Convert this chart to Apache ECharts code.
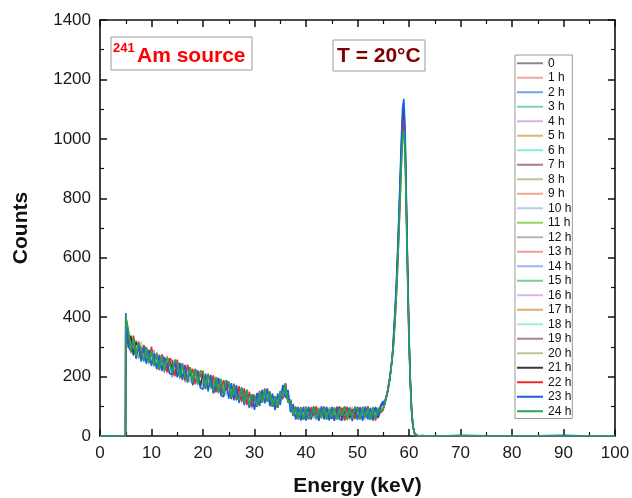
<!DOCTYPE html>
<html>
<head>
<meta charset="utf-8">
<script src="https://cdn.jsdelivr.net/npm/echarts@6/dist/echarts.min.js"></script>
<style>
html,body{margin:0;padding:0;background:#fff;}
#chart{width:632px;height:498px;}
</style>
</head>
<body>
<div id="chart"></div>
<script>
// Energy channels (keV)
const energy = [0, 4.95,
 5,5.5,6,6.5,7,7.5,8,8.5,9,9.5,
 10,10.5,11,11.5,12,12.5,13,13.5,14,14.5,
 15,15.5,16,16.5,17,17.5,18,18.5,19,19.5,
 20,20.5,21,21.5,22,22.5,23,23.5,24,24.5,
 25,25.5,26,26.5,27,27.5,28,28.5,29,29.5,
 30,30.5,31,31.5,32,32.5,33,33.5,34,34.5,
 35,35.5,36,36.5,37,37.5,38,38.5,39,39.5,
 40,40.5,41,41.5,42,42.5,43,43.5,44,44.5,
 45,45.5,46,46.5,47,47.5,48,48.5,49,49.5,
 50,50.5,51,51.5,52,52.5,53,53.5,54,54.5,
 55,
 55.25,55.5,55.75,56,56.25,56.5,56.75,
 57,57.25,57.5,57.75,58,58.25,58.5,58.75,59,59.25,59.5,59.75,60,60.25,60.5,60.75,
 61,61.25,61.5,61.75,62,
 62.5,63,64,66,70,75,80,85,90,95,100];

const h0 = [0,0,
 372,300,341,281,322,262,305,251,296,288,
 239,290,221,275,262,211,270,248,197,259,
 250,192,243,181,236,224,169,221,210,160,
 211,160,204,192,146,199,143,181,134,186,
 174,127,169,118,158,112,150,141,97,131,
 94,140,109,154,128,157,105,138,90,140,
 112,170,131,155,84,104,60,96,57,98,
 96,58,84,99,61,73,92,55,88,70,
 63,95,77,54,90,68,98,60,81,74,
 89,57,71,97,66,84,53,92,74,103,
 106,
 110,120,145,162,195,222,268,
 324,397,479,582,700,824,953,1061,1090,989,762,536,330,185,88,36,
 13,5,2,1,1,
 1,0,1,0,1,0,0,1,0,1,0];
const h1 = [0,0,
 340,351,280,327,311,264,318,255,297,241,
 287,232,279,226,263,259,214,256,241,208,
 201,247,229,190,231,185,219,215,174,213,
 173,207,158,203,185,147,192,155,180,137,
 165,176,130,166,121,157,114,150,103,138,
 121,102,147,116,157,118,149,100,131,99,
 146,127,177,113,122,68,99,58,90,61,
 71,93,64,85,98,57,79,90,62,95,
 88,60,99,72,58,91,67,85,97,56,
 62,91,84,58,95,73,99,61,86,80,
 91,
 105,125,139,168,189,228,262,
 321,393,474,576,694,816,944,1050,1080,979,755,530,326,184,87,36,
 11,4,2,0,0,
 0,1,0,1,0,1,1,0,1,0,1];
const h2 = [0,0,
 390,331,292,324,268,310,271,300,250,287,
 268,240,281,230,253,267,219,258,209,245,
 239,201,222,233,187,224,179,218,188,172,
 197,198,162,190,168,151,195,147,180,150,
 143,168,159,125,163,117,153,108,141,92,
 130,98,140,151,117,155,112,135,98,136,
 118,164,139,149,87,101,63,94,60,90,
 84,65,98,70,55,93,81,63,100,68,
 98,71,58,87,65,96,75,55,89,93,
 70,99,64,88,57,80,95,66,90,84,
 103,
 112,118,146,161,196,221,269,
 330,403,487,592,712,838,968,1078,1110,1005,775,544,335,188,89,37,
 12,6,3,1,0,
 2,1,1,0,2,1,0,1,2,0,1];
const h3 = [0,0,
 360,306,330,268,316,299,262,307,281,246,
 282,247,232,270,224,262,257,211,250,238,
 217,241,195,230,220,182,222,188,213,170,
 200,168,200,160,189,180,150,186,145,173,
 170,134,163,150,119,159,118,139,132,100,
 108,134,114,150,123,150,118,104,127,97,
 138,159,165,117,118,71,92,68,96,58,
 59,87,96,64,84,57,92,77,62,97,
 81,56,88,99,63,77,94,59,84,70,
 96,63,80,91,55,89,69,98,62,94,
 97,
 104,126,138,169,188,229,261,
 318,389,470,571,687,808,934,1040,1070,970,747,525,323,182,86,35,
 13,5,2,1,1,
 1,0,1,0,1,0,0,1,0,1,0];
const h4 = [0,0,
 345,344,318,279,304,312,267,288,297,259,
 250,282,230,266,260,226,247,218,240,253,
 233,196,236,201,193,226,181,209,207,166,
 181,203,155,198,176,158,189,143,174,164,
 160,139,173,126,149,129,141,115,127,112,
 124,111,134,137,144,120,135,107,123,115,
 121,152,160,140,95,94,70,88,62,86,
 92,68,74,98,60,86,71,95,57,81,
 72,97,62,79,93,58,86,72,99,63,
 85,61,97,74,90,59,83,72,96,97,
 100,
 110,120,145,162,195,222,268,
 327,400,483,586,706,830,960,1069,1100,996,768,540,332,187,88,36,
 11,4,2,0,0,
 0,1,0,1,0,1,1,0,1,0,1];
const h5 = [0,0,
 398,315,324,289,277,306,297,260,290,280,
 271,232,266,240,229,255,221,254,209,233,
 203,233,211,222,180,215,213,178,206,203,
 208,171,188,162,192,154,181,170,148,173,
 139,160,142,163,124,149,112,145,107,128,
 103,127,139,114,152,141,110,130,101,130,
 143,139,170,121,110,80,90,61,88,70,
 86,99,58,76,91,62,96,71,84,56,
 60,82,94,66,57,99,70,88,61,92,
 77,58,88,67,98,63,92,56,81,89,
 95,
 105,125,139,168,189,228,262,
 315,385,465,565,680,800,925,1030,1060,960,740,520,320,180,85,35,
 12,6,3,1,0,
 1,0,1,0,1,0,0,1,0,1,0];
const h6 = [0,0,
 335,336,296,318,263,297,305,266,257,285,
 257,271,222,261,253,221,259,226,249,210,
 228,206,238,188,228,195,220,182,181,212,
 170,194,176,187,153,193,158,176,172,141,
 157,171,128,160,132,151,124,137,101,136,
 117,131,109,147,128,147,130,101,126,106,
 131,160,145,139,103,85,77,95,65,91,
 66,95,79,88,57,82,99,60,78,93,
 94,64,81,58,96,75,62,90,68,83,
 60,94,70,85,78,55,87,75,95,92,
 102,
 112,118,146,161,196,221,269,
 322,394,476,579,696,819,947,1055,1085,983,758,532,328,184,87,36,
 13,5,2,1,1,
 0,1,0,1,0,1,1,0,1,0,1];
const h7 = [0,0,
 376,322,286,311,287,276,292,250,289,271,
 240,268,260,227,271,236,216,255,223,246,
 243,199,219,229,196,188,221,191,200,175,
 193,202,166,181,158,188,147,185,158,144,
 171,142,154,157,113,150,128,120,135,103,
 128,105,141,124,148,116,143,108,115,127,
 117,155,148,148,89,90,66,85,73,93,
 79,61,92,73,97,64,70,94,58,86,
 67,91,73,95,60,86,79,56,93,71,
 92,73,56,80,99,68,62,90,71,83,
 100,
 104,126,138,169,188,229,261,
 325,398,480,584,702,826,955,1064,1095,992,764,537,331,186,88,36,
 11,4,2,0,0,
 1,0,1,0,1,0,0,1,0,1,0];
const h8 = [0,0,
 353,309,316,276,320,270,300,293,255,278,
 286,245,243,262,232,265,225,243,207,241,
 210,230,232,196,214,219,185,204,213,178,
 202,164,193,176,167,181,176,149,176,157,
 148,165,137,140,155,118,145,131,112,126,
 99,137,120,143,119,150,120,127,94,133,
 126,146,158,126,108,76,94,70,85,78,
 98,75,63,89,74,96,57,87,72,62,
 85,57,92,70,88,64,98,76,55,89,
 73,87,61,95,69,91,58,84,67,99,
 104,
 110,120,145,162,195,222,268,
 312,381,460,559,673,792,916,1020,1050,950,733,515,317,178,84,35,
 12,6,3,1,0,
 0,1,0,1,0,1,1,0,1,0,1];
const h9 = [0,0,
 382,298,302,297,269,301,279,265,299,250,
 264,262,235,250,266,230,244,221,257,218,
 221,210,226,191,217,192,211,194,184,205,
 180,193,161,196,181,160,171,158,148,169,
 166,130,160,129,147,124,147,109,131,99,
 115,111,131,130,139,131,131,110,117,110,
 135,138,167,124,113,79,83,78,68,82,
 73,90,86,60,93,78,65,98,75,59,
 91,66,78,97,62,83,90,64,79,95,
 64,80,93,60,86,76,89,63,96,84,
 94,
 105,125,139,168,189,228,262,
 319,390,472,573,690,811,938,1044,1075,973,750,527,324,183,86,35,
 13,5,2,1,1,
 1,0,1,0,1,0,0,1,0,1,0];
const h10 = [0,0,
 349,339,281,312,300,271,295,279,261,290,
 249,253,272,235,240,250,229,229,240,223,
 212,222,200,219,201,209,193,203,179,199,
 194,177,186,170,181,163,157,172,163,150,
 158,145,148,134,146,141,121,136,117,120,
 118,123,119,136,134,139,124,113,106,124,
 124,151,147,137,97,87,74,81,81,77,
 88,70,80,95,69,77,86,58,92,76,
 56,88,75,67,92,73,83,98,63,76,
 86,68,76,96,60,79,73,85,69,96,
 106,
 112,118,146,161,196,221,269,
 328,401,485,589,709,834,964,1074,1105,1000,771,542,333,188,89,36,
 11,4,2,0,0,
 0,1,0,1,0,1,1,0,1,0,1];
const h11 = [0,0,
 367,328,314,285,294,280,273,286,268,261,
 275,241,254,255,237,246,241,236,226,230,
 231,215,208,216,210,198,206,188,201,184,
 186,188,170,183,170,177,162,167,155,162,
 150,155,143,150,136,132,138,124,127,110,
 112,116,128,128,140,129,125,120,108,122,
 128,146,150,134,99,83,81,72,78,79,
 80,93,65,83,76,89,68,79,95,66,
 76,70,89,61,80,94,59,81,72,99,
 58,83,91,69,93,62,80,96,73,88,
 96,
 104,126,138,169,188,229,261,
 317,387,467,568,683,804,930,1035,1065,965,744,523,322,181,85,35,
 12,6,3,1,0,
 1,0,1,0,1,0,0,1,0,1,0];
const h12 = [0,0,
 343,346,288,319,271,303,262,297,250,281,
 281,236,271,223,263,229,257,214,248,205,
 236,197,232,192,223,186,216,181,209,175,
 205,167,198,161,191,155,183,149,176,142,
 170,135,164,129,156,121,149,111,138,99,
 131,103,143,117,153,119,144,101,129,102,
 147,132,170,116,119,70,94,60,91,59,
 69,86,72,91,63,84,80,97,64,78,
 79,93,61,85,72,66,91,77,88,58,
 95,72,67,82,88,59,75,93,80,85,
 98,
 110,120,145,162,195,222,268,
 324,397,479,582,700,824,953,1061,1090,989,762,536,330,185,88,36,
 13,5,2,1,1,
 0,1,0,1,0,1,1,0,1,0,1];
const h13 = [0,0,
 371,296,329,281,312,262,306,259,297,245,
 248,276,236,268,229,262,217,253,213,247,
 207,240,199,234,190,226,183,217,176,211,
 171,203,163,197,155,190,150,181,144,177,
 140,168,132,162,124,153,116,146,104,134,
 96,139,108,150,117,152,110,133,95,136,
 113,166,136,150,87,101,63,93,59,93,
 88,59,81,95,70,62,99,73,57,90,
 64,87,99,58,78,92,66,84,95,61,
 83,97,59,75,92,66,99,58,84,79,
 91,
 105,125,139,168,189,228,262,
 321,393,474,576,694,816,944,1050,1080,979,755,530,326,184,87,36,
 11,4,2,0,0,
 1,0,1,0,1,0,0,1,0,1,0];
const h14 = [0,0,
 386,305,277,327,289,260,311,301,249,290,
 284,233,248,271,218,265,226,209,255,243,
 204,245,206,229,227,180,224,179,215,209,
 168,201,195,158,196,185,143,190,170,139,
 175,123,168,157,109,155,143,104,143,134,
 92,142,137,112,155,150,99,139,96,138,
 109,168,135,152,84,104,58,97,57,96,
 55,99,69,86,94,58,88,65,99,62,
 97,55,80,93,67,99,56,87,62,91,
 57,89,98,54,79,92,64,99,71,104,
 108,
 112,118,146,161,196,221,269,
 331,405,489,594,715,842,973,1084,1115,1010,778,547,337,189,89,37,
 12,6,3,1,0,
 2,1,1,0,2,1,0,1,2,0,1];
const h15 = [0,0,
 357,342,307,287,323,283,261,301,282,253,
 243,265,254,230,276,241,224,250,207,231,
 244,219,187,227,205,220,186,213,196,167,
 183,204,175,164,190,168,180,148,182,152,
 150,160,148,128,154,144,118,139,115,107,
 125,104,136,133,142,124,136,111,121,100,
 140,132,172,122,115,74,92,63,93,62,
 94,73,57,88,96,67,74,90,61,84,
 75,98,67,73,89,56,97,62,83,99,
 68,77,89,63,72,97,54,86,75,82,
 98,
 104,126,138,169,188,229,261,
 313,383,463,562,677,796,920,1025,1055,955,736,517,318,179,85,35,
 13,5,2,1,1,
 0,1,0,1,0,1,1,0,1,0,1];
const h16 = [0,0,
 339,319,336,292,282,309,270,288,293,248,
 276,260,228,263,240,253,211,246,237,205,
 225,198,229,211,184,219,193,190,207,181,
 196,172,199,166,187,162,163,176,151,172,
 145,168,140,137,158,127,128,138,105,129,
 107,128,114,146,125,148,114,131,97,127,
 125,157,141,142,96,94,67,91,70,87,
 63,81,99,57,78,93,66,82,97,58,
 90,62,75,96,68,55,92,78,61,97,
 81,66,94,57,89,70,61,94,87,92,
 100,
 110,120,145,162,195,222,268,
 327,400,483,586,706,830,960,1069,1100,996,768,540,332,187,88,36,
 11,4,2,0,0,
 1,0,1,0,1,0,0,1,0,1,0];
const h17 = [0,0,
 380,312,291,315,299,271,301,262,268,283,
 253,277,241,237,263,224,250,225,242,214,
 238,205,219,198,224,197,206,211,180,201,
 204,178,167,191,163,182,171,152,170,145,
 163,140,165,122,150,133,126,143,107,118,
 122,108,133,123,149,126,134,103,124,110,
 137,141,162,125,110,79,88,66,86,66,
 85,64,97,72,60,91,74,99,64,75,
 99,72,57,90,81,64,74,96,70,57,
 76,94,72,61,97,82,68,59,91,81,
 93,
 105,125,139,168,189,228,262,
 318,389,470,571,687,808,934,1040,1070,970,747,525,323,182,86,35,
 12,6,3,1,0,
 0,1,0,1,0,1,1,0,1,0,1];
const h18 = [0,0,
 331,347,277,321,285,266,309,291,254,284,
 278,231,266,259,215,262,241,208,253,220,
 199,240,226,187,232,210,178,217,209,167,
 207,165,194,189,150,188,156,180,143,179,
 143,170,130,160,131,151,117,145,99,133,
 100,137,112,149,116,155,106,139,91,139,
 111,167,132,151,85,103,60,95,58,95,
 97,57,87,70,99,60,80,91,55,88,
 58,83,96,64,79,99,60,72,94,66,
 99,64,82,93,57,87,78,55,98,93,
 105,
 112,118,146,161,196,221,269,
 322,394,476,579,696,819,947,1055,1085,983,758,532,328,184,87,36,
 13,5,2,1,1,
 1,0,1,0,1,0,0,1,0,1,0];
const h19 = [0,0,
 366,296,316,298,301,262,282,283,266,256,
 270,255,241,247,251,226,233,247,215,238,
 217,223,205,221,195,212,197,186,205,180,
 178,192,182,168,182,158,178,156,166,160,
 167,137,155,145,128,145,125,129,120,102,
 119,112,124,141,130,137,120,119,108,125,
 132,149,150,133,106,78,86,74,71,89,
 74,96,61,80,89,73,58,84,92,69,
 84,59,90,79,66,95,85,57,76,94,
 66,92,78,99,64,70,93,80,59,77,
 90,
 104,126,138,169,188,229,261,
 325,398,480,584,702,826,955,1064,1095,992,764,537,331,186,88,36,
 11,4,2,0,0,
 0,1,0,1,0,1,1,0,1,0,1];
const h20 = [0,0,
 350,324,321,278,309,279,270,291,263,273,
 254,264,260,236,244,254,226,224,239,219,
 227,212,210,219,200,194,213,187,193,198,
 184,185,169,187,164,178,158,167,157,151,
 152,157,139,153,130,141,120,132,115,119,
 109,123,120,135,133,139,119,126,104,118,
 128,151,145,138,95,91,72,80,75,84,
 91,67,78,62,87,98,70,75,81,96,
 71,97,64,82,91,69,79,99,73,67,
 92,69,96,73,66,95,84,71,97,86,
 99,
 110,120,145,162,195,222,268,
 315,385,465,565,680,800,925,1030,1060,960,740,520,320,180,85,35,
 12,6,3,1,0,
 1,0,1,0,1,0,0,1,0,1,0];
const h21 = [0,0,
 388,309,336,272,317,297,256,301,291,249,
 288,241,273,233,262,262,218,252,230,204,
 248,200,236,223,186,230,176,214,212,168,
 212,162,202,191,150,194,148,186,137,183,
 180,125,171,150,116,160,123,145,98,137,
 128,98,145,121,152,118,146,100,134,96,
 146,129,174,114,120,69,96,57,94,56,
 95,56,83,98,61,89,74,99,57,86,
 58,92,71,99,55,84,96,63,90,70,
 97,60,89,68,98,56,85,94,62,99,
 112,
 105,125,139,168,189,228,262,
 327,400,483,586,706,830,960,1069,1100,996,768,540,332,187,88,36,
 13,5,2,1,1,
 0,1,0,1,0,1,1,0,1,0,1];
const h22 = [0,0,
 399,352,281,338,270,318,259,305,285,246,
 301,238,280,222,274,258,215,262,252,201,
 257,196,245,187,240,203,226,174,220,200,
 219,158,210,170,204,147,195,141,188,154,
 183,131,176,122,168,117,160,104,149,98,
 138,101,152,112,160,116,150,98,134,95,
 152,124,178,112,122,67,99,56,97,54,
 99,58,96,67,100,54,91,72,97,55,
 90,54,99,64,95,52,98,69,86,58,
 98,56,93,62,100,55,94,52,91,78,
 88,
 112,118,146,161,196,221,269,
 312,380,458,556,668,790,918,1025,1060,968,752,532,330,186,88,37,
 11,4,2,0,0,
 1,0,1,0,1,0,0,1,0,1,0];
const h23 = [0,0,
 414,300,287,320,260,309,250,299,243,290,
 236,278,226,271,219,264,247,211,206,255,
 197,246,189,239,180,232,172,225,210,163,
 157,210,150,206,143,165,196,136,132,186,
 126,178,120,171,112,164,104,155,95,141,
 88,145,101,156,110,160,101,143,87,143,
 104,172,128,155,80,108,55,98,52,98,
 52,98,55,94,77,51,100,57,95,53,
 97,51,93,56,53,99,55,95,50,98,
 54,96,51,99,57,94,52,97,66,104,
 118,
 104,126,138,169,188,229,261,
 337,412,498,605,728,857,991,1103,1135,1028,793,557,343,193,91,37,
 12,6,3,1,0,
 2,1,1,0,2,1,0,1,2,0,1];
const h24 = [0,0,
 402,358,284,330,270,312,294,252,300,246,
 287,237,276,226,269,218,263,245,212,254,
 249,196,240,202,186,232,180,226,173,220,
 214,162,206,169,152,199,147,192,139,187,
 180,128,172,133,120,163,113,156,100,140,
 136,98,147,113,157,116,148,98,133,96,
 150,128,174,112,120,69,96,58,93,57,
 95,58,70,99,56,93,63,97,55,91,
 62,96,55,94,67,100,54,92,59,97,
 91,56,99,61,93,54,96,58,92,81,
 93,
 108,124,141,166,193,226,266,
 306,374,452,549,661,778,899,1001,1030,933,719,505,311,175,83,34,
 12,5,2,1,0,
 1,1,0,1,1,0,1,1,0,1,1];

const seriesNames = ['0','1 h','2 h','3 h','4 h','5 h','6 h','7 h','8 h','9 h','10 h','11 h','12 h',
 '13 h','14 h','15 h','16 h','17 h','18 h','19 h','20 h','21 h','22 h','23 h','24 h'];
const seriesCounts = [h0,h1,h2,h3,h4,h5,h6,h7,h8,h9,h10,h11,h12,h13,h14,h15,h16,h17,h18,h19,h20,h21,h22,h23,h24];
const xTicks = {min: 0, max: 100, interval: 10};
const yTicks = {min: 0, max: 1400, interval: 200};

const colors = ['#8a8a8a','#f4a3a3','#73a3ea','#7fd6a6','#d6b2ee','#e0b674','#86ebe2','#b07c7c','#c3c39a','#f4a48a',
 '#b6cdea','#94d65e','#b4b4b4','#f29e9e','#94baf0','#74cf94','#d6b6f0','#dab06e','#a4eae2','#a68686',
 '#c2c292','#3a3a3a','#f02828','#1a5ee6','#22a653'];

const FONT = '"Liberation Sans", Arial, Helvetica, sans-serif';
const chart = echarts.init(document.getElementById('chart'), null, {renderer: 'canvas'});

seriesCounts.forEach((a, i) => { if (a.length !== energy.length) console.error('length mismatch', i, a.length, energy.length); });

const axisBase = {
  type: 'value',
  axisLine: {show: true, onZero: false, lineStyle: {color: '#111', width: 1.6}},
  axisTick: {show: true, inside: true, length: 7, lineStyle: {color: '#111', width: 1.5}},
  minorTick: {show: true, splitNumber: 2, length: 4, lineStyle: {color: '#111', width: 1.2}},
  splitLine: {show: false},
  minorSplitLine: {show: false}
};
const plainNum = v => String(v);

const option = {
  animation: false,
  backgroundColor: '#fff',
  grid: {left: 100, right: 17, top: 20, bottom: 62, containLabel: false, outerBoundsMode: 'none'},
  xAxis: [
    Object.assign({}, axisBase, xTicks, {
      position: 'bottom',
      axisLabel: {show: true, fontSize: 17, color: '#1a1a1a', fontFamily: FONT, margin: 9, formatter: plainNum},
      name: 'Energy (keV)', nameLocation: 'middle', nameGap: 40,
      nameTextStyle: {fontSize: 21, fontWeight: 'bold', color: '#111', fontFamily: FONT}
    }),
    Object.assign({}, axisBase, xTicks, {position: 'top', axisLabel: {show: false}})
  ],
  yAxis: [
    Object.assign({}, axisBase, yTicks, {
      position: 'left',
      axisLabel: {show: true, fontSize: 17, color: '#1a1a1a', fontFamily: FONT, margin: 9, formatter: plainNum},
      name: 'Counts', nameLocation: 'middle', nameGap: 68,
      nameTextStyle: {fontSize: 21, fontWeight: 'bold', color: '#111', fontFamily: FONT}
    }),
    Object.assign({}, axisBase, yTicks, {position: 'right', axisLabel: {show: false}})
  ],
  legend: {
    orient: 'vertical', left: 515, top: 55,
    data: seriesNames, icon: 'rect', itemWidth: 26, itemHeight: 2, itemGap: 0,
    padding: [1, 1, 0, 2],
    borderColor: '#999', borderWidth: 1, backgroundColor: '#fff',
    selectedMode: false,
    textStyle: {fontSize: 12, color: '#111', lineHeight: 14.5, fontFamily: FONT}
  },
  series: seriesCounts.map((arr, i) => ({
    name: seriesNames[i],
    type: 'line',
    xAxisIndex: 0, yAxisIndex: 0,
    data: energy.map((e, k) => [e, arr[k]]),
    showSymbol: false, symbol: 'none',
    lineStyle: {width: i >= 21 ? 1.6 : 1, color: colors[i], opacity: i >= 21 ? 1 : 0.9},
    itemStyle: {color: colors[i]},
    emphasis: {disabled: true},
    z: 2
  })),
  graphic: [
    {type: 'rect', shape: {x: 111, y: 37, width: 141, height: 33}, style: {fill: '#fff', stroke: '#9a9a9a', lineWidth: 1}, z: 10},
    {type: 'text', x: 113, y: 48, style: {text: '241', fontSize: 13, fontWeight: 'bold', fill: '#ff0000', fontFamily: FONT, verticalAlign: 'middle', align: 'left'}, z: 11},
    {type: 'text', x: 137, y: 56, style: {text: 'Am source', fontSize: 21, fontWeight: 'bold', fill: '#ff0000', fontFamily: FONT, verticalAlign: 'middle', align: 'left'}, z: 11},
    {type: 'rect', shape: {x: 333, y: 40, width: 92, height: 31}, style: {fill: '#fff', stroke: '#9a9a9a', lineWidth: 1}, z: 10},
    {type: 'text', x: 337, y: 56, style: {text: 'T = 20°C', fontSize: 21, fontWeight: 'bold', fill: '#800000', fontFamily: FONT, verticalAlign: 'middle', align: 'left'}, z: 11}
  ]
};
chart.setOption(option);
</script>
</body>
</html>
